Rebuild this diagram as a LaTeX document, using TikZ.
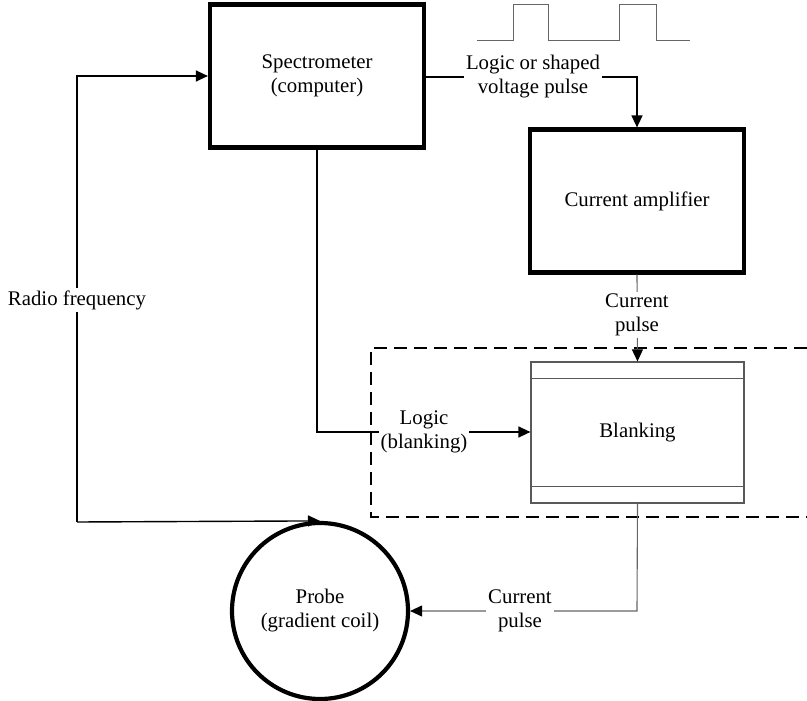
\documentclass[tikz,border=0pt]{standalone}
\usepackage{fontspec}
\setmainfont{Liberation Serif}
\usetikzlibrary{arrows.meta,calc}

\tikzset{
  heavybox/.style={draw, line width=4.2pt, minimum width=214pt, minimum height=143pt, inner sep=0pt, align=center},
  thinbox/.style={draw=black!65, line width=1.2pt, minimum width=213pt, minimum height=141pt, inner sep=0pt},
  probecircle/.style={draw, circle, line width=4.2pt, minimum size=176pt, inner sep=0pt, align=center},
  wire/.style={line width=1.4pt},
  greywire/.style={line width=1.1pt, draw=black!60},
  tip/.style={-{Triangle[length=12pt,width=11pt,color=black]}},
  tag/.style={fill=white, inner sep=2pt, align=center},
  region/.style={dashed, dash pattern=on 13pt off 7pt, line width=1.4pt},
}

\begin{document}
\begin{tikzpicture}[x=1pt, y=-1pt, font=\fontsize{20.8}{24}\selectfont]
\useasboundingbox (0,0) rectangle (807,701);

% blocks
\node[heavybox] (spec) at (317,76) {Spectrometer\\(computer)};
\node[heavybox] (amp) at (637,201) {Current amplifier};
\node[thinbox] (blank) at (637.5,432.5) {Blanking};
\node[probecircle] (probe) at (320,611) {Probe\\(gradient coil)};

% header and footer strips of the blanking unit
\draw[black!65, line width=1.2pt] ($(blank.north west)+(0,17)$) -- ($(blank.north east)+(0,17)$);
\draw[black!65, line width=1.2pt] ($(blank.south west)+(0,-17)$) -- ($(blank.south east)+(0,-17)$);

% dashed region around the blanking stage (open to the right)
\draw[region] (807,348) -- (371,348) -- (371,517) -- (807,517);

% pulse train sketch
\draw[black!60, line width=1pt] (477,41) -- (513,41) -- (513,5) -- (548,5) -- (548,41)
  -- (619,41) -- (619,5) -- (656,5) -- (656,41) -- (690,41);

% radio frequency loop
\coordinate (rfcorner) at (77,76);
\coordinate (rfbottom) at (77,522);
\draw[wire, tip] (rfbottom) -- (rfcorner) -- (spec.west |- rfcorner);
\draw[wire, tip] (rfbottom) -- (probe.north);
\node[tag] (rflabel) at (77,300) {Radio frequency};

% logic / shaped voltage pulse to the amplifier
\coordinate (pulsecorner) at (637,77);
\draw[wire, tip] (spec.east |- pulsecorner) -- (pulsecorner) -- (amp.north);
\node[tag] (pulselabel) at (533,77) {Logic or shaped\\voltage pulse};

% current pulse into blanking
\draw[greywire, tip] (amp.south) -- (blank.north);
\node[tag] (curlabelA) at (637,315) {Current\\pulse};

% blanking logic from the spectrometer
\coordinate (logiccorner) at (317,432);
\draw[wire, tip] (spec.south -| logiccorner) -- (logiccorner) -- (blank.west |- logiccorner);
\node[tag] (logiclabel) at (424,432) {Logic\\(blanking)};

% current pulse to the probe
\coordinate (outcorner) at (637,611);
\draw[greywire, tip] (blank.south) -- (outcorner) -- (probe.east);
\node[tag] (curlabelB) at (520,611) {Current\\pulse};
\end{tikzpicture}
\end{document}
